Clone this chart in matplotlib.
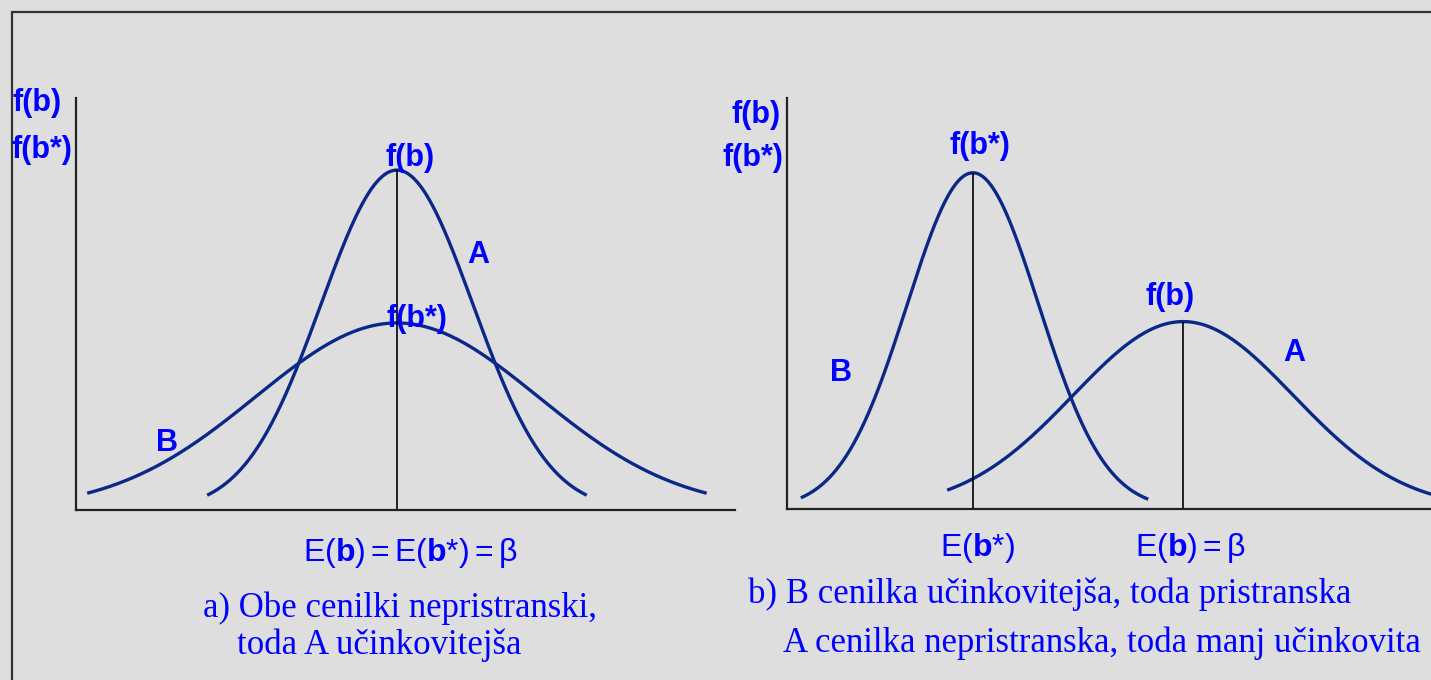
import numpy as np
import matplotlib
matplotlib.use("Agg")
import matplotlib.pyplot as plt
from matplotlib.patches import Rectangle

W, H = 1431, 680

# --- curve parameters (x in axis units, y in axis units) ---
# panel a: both estimators centred on beta
a_labels = ["A", "B"]
a_means = [4.87, 4.87]
a_sds = [1.15, 2.14]
a_peaks = [8.25, 4.54]
a_lo = [1.99, 0.17]
a_hi = [7.75, 9.57]

# panel b: B biased but narrow, A unbiased but wide
b_labels = ["B", "A"]
b_means = [2.82, 6.01]
b_sds = [1.00, 1.67]
b_peaks = [8.18, 4.56]
b_lo = [0.21, 2.43]
b_hi = [5.48, 10.2]

BG = "#dedede"
CURVE = "#0a2888"
BLUE = "#0000ff"

plt.rcParams["mathtext.fontset"] = "custom"
plt.rcParams["mathtext.rm"] = "Liberation Sans"
plt.rcParams["mathtext.bf"] = "Liberation Sans:bold"

fig = plt.figure(figsize=(W / 100, H / 100), dpi=100, facecolor=BG)

# outer frame
fig.patches.append(Rectangle((12 / W, -0.1), 1.2, 1 - 12 / H + 0.1,
                             transform=fig.transFigure, fill=False,
                             edgecolor="#333333", linewidth=1.6))


def px_axes(x0, x1, y0, y1):
    return fig.add_axes([x0 / W, 1 - y1 / H, (x1 - x0) / W, (y1 - y0) / H])


def ftext(x, y, s, **kw):
    fig.text(x / W, 1 - y / H, s, **kw)


def bell(mu, sd, peak, lo, hi):
    x = np.linspace(lo, hi, 400)
    return x, peak * np.exp(-0.5 * ((x - mu) / sd) ** 2)


def style(ax, xmax):
    ax.set_xlim(0, xmax)
    ax.set_ylim(0, 10)
    ax.set_facecolor("none")
    for s in ["top", "right"]:
        ax.spines[s].set_visible(False)
    for s in ["left", "bottom"]:
        ax.spines[s].set_linewidth(1.6)
        ax.spines[s].set_color("#222222")
    ax.set_xticks([])
    ax.set_yticks([])


lab_kw = dict(color=BLUE, fontsize=22, fontweight="bold", family="Liberation Sans")
e_kw = dict(color=BLUE, fontsize=23, family="Liberation Sans")
cap_kw = dict(color=BLUE, fontsize=25, family="Liberation Serif")
EQ = r"$\,$=$\,$"

# ---------------- panel a ----------------
ax1 = px_axes(76, 735, 98, 510)
style(ax1, 10.0)
for m, s, p, lo, hi in zip(a_means, a_sds, a_peaks, a_lo, a_hi):
    x, y = bell(m, s, p, lo, hi)
    ax1.plot(x, y, color=CURVE, lw=2.4, solid_capstyle="butt")
ax1.vlines(a_means[0], 0, a_peaks[0], color="black", lw=1.2)
ax1.text(a_means[0] + 0.2, a_peaks[0] + 0.3, "f(b)", ha="center", va="center", **lab_kw)
ax1.text(a_means[1] + 0.3, a_peaks[1] + 0.1, "f(b*)", ha="center", va="center", **lab_kw)
ax1.text(6.1, 6.2, "A", ha="center", va="center", **lab_kw)
ax1.text(1.38, 1.62, "B", ha="center", va="center", **lab_kw)

ftext(37, 103, "f(b)", ha="center", va="center", **lab_kw)
ftext(42, 150, "f(b*)", ha="center", va="center", **lab_kw)
ftext(410, 553, r"E($\mathbf{b}$)" + EQ + r"E($\mathbf{b}$*)" + EQ + "β",
      ha="center", va="center", **e_kw)
ftext(203, 608, "a) Obe cenilki nepristranski,", ha="left", va="center", **cap_kw)
ftext(237, 645, "toda A učinkovitejša", ha="left", va="center", **cap_kw)

# ---------------- panel b ----------------
ax2 = px_axes(787, 1431, 98, 509)
style(ax2, 9.77)
for m, s, p, lo, hi in zip(b_means, b_sds, b_peaks, b_lo, b_hi):
    x, y = bell(m, s, p, lo, hi)
    ax2.plot(x, y, color=CURVE, lw=2.4, solid_capstyle="butt", clip_on=True)
for m, p in zip(b_means, b_peaks):
    ax2.vlines(m, 0, p, color="black", lw=1.2)
ax2.text(b_means[0] + 0.11, b_peaks[0] + 0.65, "f(b*)", ha="center", va="center", **lab_kw)
ax2.text(b_means[1] - 0.2, b_peaks[1] + 0.6, "f(b)", ha="center", va="center", **lab_kw)
ax2.text(7.7, 3.8, "A", ha="center", va="center", **lab_kw)
ax2.text(0.82, 3.3, "B", ha="center", va="center", **lab_kw)

ftext(781, 115, "f(b)", ha="right", va="center", **lab_kw)
ftext(783, 158, "f(b*)", ha="right", va="center", **lab_kw)
ftext(977, 548, r"E($\mathbf{b}$*)", ha="center", va="center", **e_kw)
ftext(1190, 548, r"E($\mathbf{b}$)" + EQ + "β", ha="center", va="center", **e_kw)
ftext(748, 594, "b) B cenilka učinkovitejša, toda pristranska", ha="left", va="center", **cap_kw)
ftext(783, 643, "A cenilka nepristranska, toda manj učinkovita", ha="left", va="center", **cap_kw)

fig.savefig("out.png", dpi=100, facecolor=BG)
